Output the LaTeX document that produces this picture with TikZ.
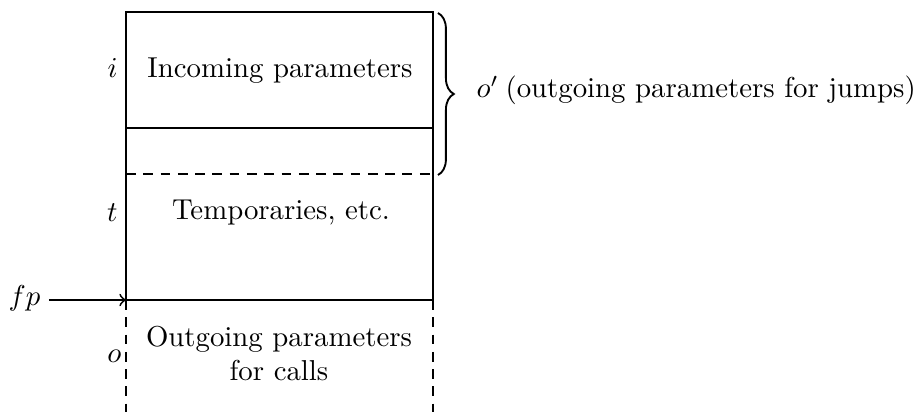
\documentclass[tikz,border=0pt]{standalone}
\usetikzlibrary{decorations.pathreplacing}
\begin{document}
\begin{tikzpicture}[x=0.3472pt, y=-0.3472pt,
  frame/.style={line width=0.65pt},
  dashframe/.style={line width=0.65pt, dash pattern=on 3.4pt off 2.6pt},
  lbl/.style={inner sep=0pt, anchor=base},
  side/.style={inner sep=0pt, anchor=base east}]
\useasboundingbox (0,0) rectangle (916,412);
% corners of the frame
\coordinate (tl) at (126,12);
\coordinate (tr) at (433,12);
\coordinate (ml) at (126,128);
\coordinate (mr) at (433,128);
\coordinate (dl) at (126,174);
\coordinate (dr) at (433,174);
\coordinate (bl) at (126,300);
\coordinate (br) at (433,300);
\coordinate (el) at (126,412);
\coordinate (er) at (433,412);
% solid part of the frame
\draw[frame] (ml) -- (tl) -- (tr) -- (mr);
\draw[frame] (ml) -- (mr);
\draw[frame] (ml) -- (bl) -- (br) -- (mr);
\draw[dashframe] (dl) -- (dr);
\draw[dashframe] (bl) -- (el);
\draw[dashframe] (br) -- (er);
% texts inside the frame
\node[lbl] (inc) at (280,78) {Incoming parameters};
\node[lbl] (tmp) at (281,220) {Temporaries, etc.};
\node[lbl] (out1) at (279,347) {Outgoing parameters};
\node[lbl] (out2) at (279,381) {for calls};
% region letters
\node[side] (i) at (118,78) {$i$};
\node[side] (t) at (118,222) {$t$};
\node[side] (o) at (122,363) {$o$};
% frame pointer
\node[side] (fp) at (41,306) {$fp$};
\coordinate (fps) at (49,300);
\draw[line width=0.65pt, ->] (fps) -- (bl);
% brace for jump parameters
\coordinate (bt) at (438,13);
\coordinate (bb) at (438,175);
\draw[line width=0.65pt, decorate, decoration={brace, amplitude=5.5pt}] (bt) -- (bb);
\node[inner sep=0pt, anchor=base west] (oprime) at (476,98) {$o'$};
\node[inner sep=0pt, anchor=base west] (jmp) at (505,98) {(outgoing parameters for jumps)};
\end{tikzpicture}
\end{document}
